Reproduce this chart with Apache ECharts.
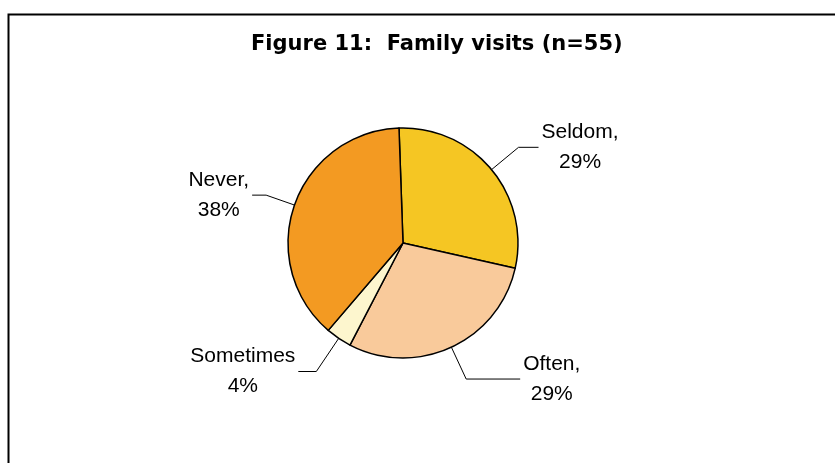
<!DOCTYPE html>
<html>
<head>
<meta charset="utf-8">
<script src="https://cdn.jsdelivr.net/npm/echarts@6/dist/echarts.min.js"></script>
<style>
  html, body { margin: 0; padding: 0; background: #fff; }
  #main { width: 835px; height: 463px; }
</style>
</head>
<body>
<div id="main"></div>
<script>
// family visits, n=55
var categories = ['Seldom', 'Often', 'Sometimes', 'Never'];
var counts = [16, 16, 2, 21];
var colors = ['#F5C623', '#F9CA9B', '#FDF6CE', '#F39A22'];

// leader line lengths per slice [length, length2]
var leader = [[35, 20], [35, 54], [40, 18], [30, 14]];

var chart = echarts.init(document.getElementById('main'));

var pieData = categories.map(function (name, i) {
  return {
    name: name,
    value: counts[i],
    itemStyle: { color: colors[i] },
    labelLine: { length: leader[i][0], length2: leader[i][1] }
  };
});

var option = {
  animation: false,
  title: {
    text: 'Figure 11:  Family visits (n=55)',
    left: 246,
    top: 29,
    textStyle: {
      fontFamily: 'DejaVu Sans',
      fontWeight: 'bold',
      fontSize: 21,
      color: '#000'
    }
  },
  graphic: [{
    type: 'rect',
    left: 6,
    top: 12,
    shape: { width: 1000, height: 1000 },
    style: { fill: 'none', stroke: '#000', lineWidth: 2 },
    silent: true
  }],
  series: [{
    type: 'pie',
    center: [403, 243],
    radius: 115,
    startAngle: 92,
    clockwise: true,
    avoidLabelOverlap: false,
    percentPrecision: 0,
    itemStyle: { borderColor: '#000', borderWidth: 1.5 },
    label: {
      show: true,
      position: 'outside',
      distanceToLabelLine: 3,
      formatter: function (p) {
        var sep = p.name === 'Sometimes' ? '' : ',';
        return '{a|' + p.name + sep + '}\n{a|' + p.percent + '%}';
      },
      rich: {
        a: {
          align: 'center',
          fontFamily: 'Liberation Sans',
          fontSize: 21,
          lineHeight: 30,
          color: '#000'
        }
      }
    },
    labelLine: {
      show: true,
      smooth: false,
      lineStyle: { color: '#000', width: 1 }
    },
    data: pieData
  }]
};

chart.setOption(option);
</script>
</body>
</html>
